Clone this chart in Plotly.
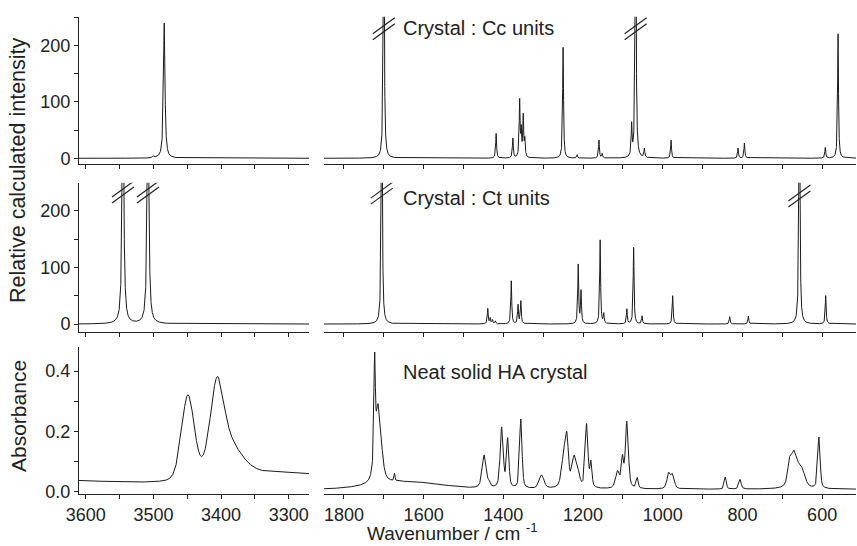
import numpy as np
import plotly.graph_objects as go

# ---------------- data ----------------
# Calculated spectrum, Cc units: peak positions (cm-1) and relative intensities
cc_oh_pos = [3500, 3484]
cc_oh_int = [3, 240]
cc_fp_pos = [1700, 1418, 1376, 1359, 1355, 1350, 1346, 1250, 1215, 1160, 1152,
             1078, 1068, 1046, 979, 811, 795, 592, 560]
cc_fp_int = [600, 44, 35, 100, 45, 72, 30, 197, 6, 32, 8,
             55, 600, 16, 32, 18, 27, 19, 221]

# Calculated spectrum, Ct units
ct_oh_pos = [3545, 3508]
ct_oh_int = [500, 500]
ct_fp_pos = [1705, 1439, 1433, 1427, 1420, 1380, 1363, 1356, 1212, 1205, 1157, 1148,
             1090, 1073, 1052, 975, 832, 785, 657, 591]
ct_fp_int = [600, 27, 10, 7, 5, 76, 33, 40, 104, 57, 148, 17,
             26, 135, 14, 50, 13, 14, 600, 50]
calc_hwhm = 1.3  # Lorentzian half width of calculated bands

# Experimental (neat solid HA crystal) absorbance: pseudo-Voigt bands
exp_oh_pos = [3449, 3406, 3385, 3280]
exp_oh_h = [0.28, 0.29, 0.10, 0.055]
exp_oh_w = [22, 24, 45, 200]
exp_oh_eta = [0.2, 0.3, 0.7, 0.0]
exp_oh_base = [0.024, 0.0001]  # offset at 3490, slope

exp_fp_pos = [1723, 1714, 1640, 1673, 1448, 1435, 1404, 1389, 1356, 1304, 1247, 1240,
              1222, 1212, 1191, 1180, 1113, 1101, 1090, 1064, 985, 975, 843, 806,
              682, 670, 650, 608]
exp_fp_h = [0.31, 0.26, 0.024, 0.025, 0.11, 0.015, 0.20, 0.16, 0.23, 0.045, 0.12, 0.12,
            0.10, 0.03, 0.21, 0.08, 0.055, 0.09, 0.22, 0.035, 0.05, 0.045, 0.04, 0.032,
            0.05, 0.12, 0.05, 0.17]
exp_fp_w = [4, 18, 200, 3, 12, 6, 9, 7, 7, 14, 14, 8,
            14, 10, 8, 6, 12, 6, 9, 6, 10, 10, 6, 7,
            10, 22, 18, 7]
exp_fp_eta = [0.5] * 2 + [0.0] + [0.5] * 25
exp_fp_base = 0.008

# break marks (truncated calculated peaks): position, value
brk_cc_right = [(1700, 230), (1068, 230)]
brk_ct_left = [(3545, 233), (3508, 233)]
brk_ct_right = [(1705, 231), (657, 226)]

texts = ["Crystal : Cc units", "Crystal : Ct units", "Neat solid HA crystal"]

# ---------------- spectra ----------------
xl = np.arange(3270, 3610.01, 0.1)
xr = np.arange(515, 1850.01, 0.25)


def lorentz_sum(x, pos, inten, g):
    y = np.zeros_like(x)
    for c, h in zip(pos, inten):
        y += h * g * g / ((x - c) ** 2 + g * g)
    return y


def pv_sum(x, pos, h, w, eta):
    y = np.zeros_like(x)
    for c, hh, ww, e in zip(pos, h, w, eta):
        d = (x - c) / ww
        L = 1.0 / (1 + 4 * d * d)
        G = np.exp(-4 * np.log(2) * d * d)
        y += hh * (e * L + (1 - e) * G)
    return y


cc_l = lorentz_sum(xl, cc_oh_pos, cc_oh_int, calc_hwhm)
cc_r = lorentz_sum(xr, cc_fp_pos, cc_fp_int, calc_hwhm)
ct_l = lorentz_sum(xl, ct_oh_pos, ct_oh_int, calc_hwhm)
ct_r = lorentz_sum(xr, ct_fp_pos, ct_fp_int, calc_hwhm)
ex_l = exp_oh_base[0] + exp_oh_base[1] * (xl - 3490) + pv_sum(xl, exp_oh_pos, exp_oh_h, exp_oh_w, exp_oh_eta)
ex_r = exp_fp_base + pv_sum(xr, exp_fp_pos, exp_fp_h, exp_fp_w, exp_fp_eta)

W, H = 857, 546
LINE = "#1a1a1a"
FONT = "Liberation Sans, Arial, sans-serif"
TICK = 18


def px(x):
    return x / W


def py(y):
    return 1 - y / H


xl_dom = [px(79), px(309)]
xr_dom = [px(324), px(856)]
rows = [
    dict(dom=[py(164.3), py(16.7)], rng=[-10.7, 251.5], dtick=100, minor=50, fmt=None),
    dict(dom=[py(332.3), py(182.7)], rng=[-14.6, 249.4], dtick=100, minor=50, fmt=None),
    dict(dom=[py(494.3), py(347.3)], rng=[-0.0086, 0.479], dtick=0.2, minor=0.1, fmt=".1f"),
]
series = [(cc_l, cc_r), (ct_l, ct_r), (ex_l, ex_r)]

fig = go.Figure()
layout = {}
for i, (row, (yl, yr)) in enumerate(zip(rows, series)):
    nl, nr = 2 * i + 1, 2 * i + 2
    sl = "" if nl == 1 else str(nl)
    sr = str(nr)
    fig.add_trace(go.Scatter(x=xl, y=yl, mode="lines", xaxis="x" + sl, yaxis="y" + sl,
                             line=dict(color=LINE, width=1), hoverinfo="skip"))
    fig.add_trace(go.Scatter(x=xr, y=yr, mode="lines", xaxis="x" + sr, yaxis="y" + sr,
                             line=dict(color=LINE, width=1), hoverinfo="skip"))
    common_x = dict(showline=True, linecolor="#222", linewidth=1, ticks="outside", ticklen=4,
                    tickcolor="#222", showgrid=False, zeroline=False, automargin=False,
                    showticklabels=(i == 2),
                    tickfont=dict(family=FONT, size=TICK, color="#222"))
    layout["xaxis" + sl] = dict(common_x, domain=xl_dom, range=[3610, 3270], anchor="y" + sl,
                                tick0=3300, dtick=100,
                                minor=dict(dtick=50, ticks="outside", ticklen=4, tickcolor="#222"))
    layout["xaxis" + sr] = dict(common_x, domain=xr_dom, range=[1850, 515], anchor="y" + sr,
                                tick0=600, dtick=200,
                                minor=dict(dtick=100, ticks="outside", ticklen=4, tickcolor="#222"))
    ya = dict(domain=row["dom"], range=row["rng"], anchor="x" + sl, showline=True, linecolor="#222",
              linewidth=1, ticks="outside", ticklen=4, tickcolor="#222", tick0=0, dtick=row["dtick"],
              minor=dict(dtick=row["minor"], ticks="outside", ticklen=4, tickcolor="#222"),
              showgrid=False, zeroline=False, automargin=False,
              tickfont=dict(family=FONT, size=TICK, color="#222"))
    if row["fmt"]:
        ya["tickformat"] = row["fmt"]
    layout["yaxis" + sl] = ya
    layout["yaxis" + sr] = dict(domain=row["dom"], range=row["rng"], anchor="x" + sr, visible=False)

shapes = []


def add_breaks(lst, xr_, yr_):
    for (xv, yv) in lst:
        for off in (3, -3):
            shapes.append(dict(type="line", xref=xr_, yref=yr_, xsizemode="pixel", ysizemode="pixel",
                               xanchor=xv, yanchor=yv, x0=-11, x1=11, y0=-8 + off, y1=8 + off,
                               line=dict(color="#222", width=1.2), layer="above"))


add_breaks(brk_cc_right, "x2", "y2")
add_breaks(brk_ct_left, "x3", "y3")
add_breaks(brk_ct_right, "x4", "y4")


def ann(text, x, y, size, **kw):
    d = dict(text=text, x=px(x), y=py(y), xref="paper", yref="paper", showarrow=False,
             font=dict(family=FONT, size=size, color="#222"), yanchor="middle")
    d.update(kw)
    return d


annotations = [
    ann(texts[0], 401, 28, 20, xanchor="left"),
    ann(texts[1], 401, 198, 20, xanchor="left"),
    ann(texts[2], 401, 372, 20, xanchor="left"),
    ann("Relative calculated intensity", 18, 170, 21.5, xanchor="center", textangle=-90),
    ann("Absorbance", 18, 416, 21, xanchor="center", textangle=-90),
    ann("Wavenumber / cm <sup>-1</sup>", 452, 532, 19, xanchor="center"),
]

fig.update_layout(**layout)
fig.update_layout(width=W, height=H, margin=dict(l=0, r=0, t=0, b=0), showlegend=False,
                  paper_bgcolor="white", plot_bgcolor="white", shapes=shapes, annotations=annotations)
fig.write_html("out.html", config={"displayModeBar": False},
               post_script="document.body.style.margin='0';document.body.style.overflow='hidden';")
